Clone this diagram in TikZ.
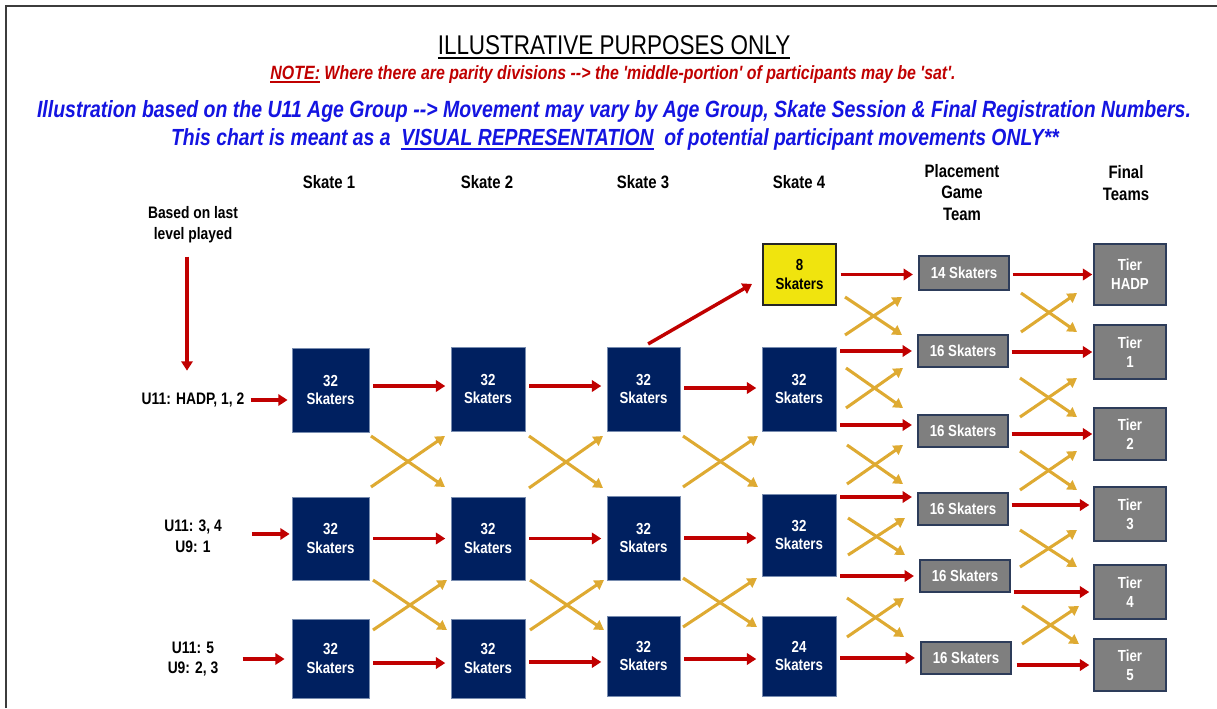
\documentclass[tikz,border=0pt]{standalone}
\usepackage{fontspec}
\setmainfont{Liberation Sans}[FakeStretch=0.83,Ligatures=TeXOff]
\usetikzlibrary{arrows.meta,calc}
\definecolor{navy}{RGB}{0,32,96}
\definecolor{navyedge}{RGB}{120,140,175}
\definecolor{boxgrey}{RGB}{127,127,127}
\definecolor{greyedge}{RGB}{45,60,90}
\definecolor{yel}{RGB}{240,228,14}
\definecolor{arrred}{RGB}{192,0,0}
\definecolor{gold}{RGB}{222,170,50}
\definecolor{titleblue}{RGB}{20,20,225}
\definecolor{framegrey}{RGB}{60,60,60}
% underline with chosen depth and thickness
\newcommand\myul[3]{\setbox0=\hbox{#3}\rlap{\rule[-#1]{\wd0}{#2}}\box0\relax}
% pair of crossing gold arrows inside the box (x1,y1)-(x2,y2)
\newcommand\goldx[4]{\draw[goldarr] (#1,#2) -- (#3,#4); \draw[goldarr] (#1,#4) -- (#3,#2);}

\begin{document}
\begin{tikzpicture}[x=0.75pt,y=-0.75pt,
  sz/.style 2 args={minimum width={#1*0.75pt}, minimum height={#2*0.75pt}},
  boxtext/.style={font=\bfseries\fontsize{12}{14}\selectfont, align=center, inner sep=0pt},
  navybox/.style={boxtext, draw=navyedge, line width=0.6pt, fill=navy, text=white},
  greybox/.style={boxtext, draw=greyedge, line width=1.1pt, fill=boxgrey, text=white},
  yellowbox/.style={boxtext, draw=black!85, line width=0.8pt, fill=yel, text=black},
  header/.style={font=\bfseries\fontsize{13.5}{16}\selectfont, align=center, inner sep=0pt},
  rowlabel/.style={font=\bfseries\fontsize{12.5}{15.5}\selectfont, align=center, inner sep=0pt},
  redarr/.style={draw=arrred, line width=2.6pt, -{Triangle[length=7pt,width=8.5pt]}, shorten <=3pt, shorten >=4pt},
  goldarr/.style={draw=gold, line width=2.3pt, -{Triangle[length=7pt,width=8pt]}},
]
\useasboundingbox (0,0) rectangle (1217,708);
\draw[framegrey, line width=1.2pt] (6,708) -- (6,6) -- (1217,6);

% headings
\node[font=\fontsize{20.3}{24}\selectfont, inner sep=0pt, anchor=base] (title) at (614,54)
  {\myul{3.4pt}{1.5pt}{ILLUSTRATIVE PURPOSES ONLY}};
\node[font=\bfseries\itshape\fontsize{14.4}{17}\selectfont, text=arrred, inner sep=0pt, anchor=base] (note) at (613,79.5)
  {\myul{2.6pt}{1.2pt}{NOTE:} Where there are parity divisions --> the 'middle-portion' of participants may be 'sat'.};
\node[font=\bfseries\itshape\fontsize{17.6}{21}\selectfont, text=titleblue, inner sep=0pt, anchor=base] (ill) at (614,117)
  {Illustration based on the U11 Age Group --> Movement may vary by Age Group, Skate Session \& Final Registration Numbers.};
\node[font=\bfseries\itshape\fontsize{17.5}{21}\selectfont, text=titleblue, inner sep=0pt, anchor=base] (chart) at (615,145)
  {This chart is meant as a \ \myul{3.6pt}{1.5pt}{VISUAL REPRESENTATION}\ \ of potential participant movements ONLY**};

% column headers
\node[header] (h1) at (329,182) {Skate 1};
\node[header] (h2) at (487,182) {Skate 2};
\node[header] (h3) at (643,182) {Skate 3};
\node[header] (h4) at (799,182) {Skate 4};
\node[header, font=\bfseries\fontsize{13.5}{16.1}\selectfont] (h5) at (962,192.5) {Placement\\Game\\Team};
\node[header, font=\bfseries\fontsize{13.5}{16.5}\selectfont] (h6) at (1126,183) {Final\\Teams};

% row labels
\node[rowlabel, font=\bfseries\fontsize{12.5}{15.75}\selectfont] (based) at (193,225) {Based on last\\level played};
\node[rowlabel] (rA) at (193,400) {U11: HADP, 1, 2};
\node[rowlabel] (rB) at (193,536.5) {U11: 3, 4\\U9: 1};
\node[rowlabel, font=\bfseries\fontsize{12.5}{15}\selectfont] (rC) at (193,659) {U11: 5\\U9: 2, 3};

% skate session boxes
\node[navybox, sz={77}{84}] (a1) at (330.5,390) {32\\Skaters};
\node[navybox, sz={77}{83}] (b1) at (330.5,538.5) {32\\Skaters};
\node[navybox, sz={77}{79}] (c1) at (330.5,658.5) {32\\Skaters};
\node[navybox, sz={74}{84}] (a2) at (488,389) {32\\Skaters};
\node[navybox, sz={74}{83}] (b2) at (488,538.5) {32\\Skaters};
\node[navybox, sz={74}{79}] (c2) at (488,658.5) {32\\Skaters};
\node[navybox, sz={73}{84}] (a3) at (643.5,389) {32\\Skaters};
\node[navybox, sz={73}{84}] (b3) at (643.5,538) {32\\Skaters};
\node[navybox, sz={73}{80}] (c3) at (643.5,656) {32\\Skaters};
\node[yellowbox, sz={73}{61}] (y4) at (799.5,274.5) {8\\Skaters};
\node[navybox, sz={74}{84}] (a4) at (799,389) {32\\Skaters};
\node[navybox, sz={74}{82}] (b4) at (799,535) {32\\Skaters};
\node[navybox, sz={74}{80}] (c4) at (799,656) {24\\Skaters};

% placement game teams
\node[greybox, sz={90}{34}] (p1) at (964,273) {14 Skaters};
\node[greybox, sz={90}{32}] (p2) at (963,351) {16 Skaters};
\node[greybox, sz={90}{32}] (p3) at (963,431) {16 Skaters};
\node[greybox, sz={90}{32}] (p4) at (963,509) {16 Skaters};
\node[greybox, sz={90}{32}] (p5) at (965,576) {16 Skaters};
\node[greybox, sz={90}{32}] (p6) at (966,658) {16 Skaters};

% final teams
\node[greybox, sz={72}{61}] (t0) at (1130,274.5) {Tier\\HADP};
\node[greybox, sz={72}{54}] (t1) at (1130,352) {Tier\\1};
\node[greybox, sz={72}{52}] (t2) at (1130,434) {Tier\\2};
\node[greybox, sz={72}{54}] (t3) at (1130,514) {Tier\\3};
\node[greybox, sz={72}{54}] (t4) at (1130,592) {Tier\\4};
\node[greybox, sz={72}{52}] (t5) at (1130,665) {Tier\\5};

% entry arrows
\draw[redarr, shorten <=9.75pt, shorten >=16.5pt] ([xshift=-4.5pt]based.south) -- ([xshift=-4.5pt]rA.north -| based.south);
\draw[redarr, shorten <=4.5pt, shorten >=3pt] (rA.east) -- (rA.east -| a1.west);
\draw[redarr, shorten <=22.5pt, shorten >=1.5pt] ([yshift=1.9pt]rB.east) -- ([yshift=1.9pt]rB.east -| b1.west);
\draw[redarr, shorten <=18pt, shorten >=5.25pt] (rC.east) -- (rC.east -| c1.west);

% straight progression between skates
\draw[redarr] ([yshift=3pt]a1.east) -- ([yshift=3pt]a1.east -| a2.west);
\draw[redarr] ([yshift=2.25pt]a2.east) -- ([yshift=2.25pt]a2.east -| a3.west);
\draw[redarr] ([yshift=0.75pt]a3.east) -- ([yshift=0.75pt]a3.east -| a4.west);
\draw[redarr] (b1.east) -- (b1.east -| b2.west);
\draw[redarr] (b2.east) -- (b2.east -| b3.west);
\draw[redarr] (b3.east) -- (b3.east -| b4.west);
\draw[redarr] ([yshift=-3.4pt]c1.east) -- ([yshift=-3.4pt]c1.east -| c2.west);
\draw[redarr] ([yshift=-2.6pt]c2.east) -- ([yshift=-2.6pt]c2.east -| c3.west);
\draw[redarr] ([yshift=-2.25pt]c3.east) -- ([yshift=-2.25pt]c3.east -| c4.west);
\draw[redarr, shorten <=4pt, shorten >=9pt] (a3.north) -- ([yshift=-2.6pt]y4.west);

% skate 4 to placement games
\draw[redarr] (y4.east) -- (y4.east -| p1.west);
\draw[redarr] (p2.west -| a4.east) -- (p2.west);
\draw[redarr] ([yshift=4.5pt]p3.west -| a4.east) -- ([yshift=4.5pt]p3.west);
\draw[redarr] ([yshift=9pt]p4.west -| b4.east) -- ([yshift=9pt]p4.west);
\draw[redarr] (p5.west -| b4.east) -- (p5.west);
\draw[redarr] (p6.west -| c4.east) -- (p6.west);

% placement games to final teams
\draw[redarr, shorten <=2.25pt, shorten >=0.75pt] (t0.west -| p1.east) -- (t0.west);
\draw[redarr, shorten <=2.25pt, shorten >=0.75pt] (t1.west -| p2.east) -- (t1.west);
\draw[redarr, shorten <=2.25pt, shorten >=0.75pt] (t2.west -| p3.east) -- (t2.west);
\draw[redarr, shorten <=2.25pt, shorten >=3pt] ([yshift=6.75pt]t3.west -| p4.east) -- ([yshift=6.75pt]t3.west);
\draw[redarr, shorten <=2.25pt, shorten >=3pt] (t4.west -| p5.east) -- (t4.west);
\draw[redarr, shorten <=3.75pt, shorten >=3pt] (t5.west -| p6.east) -- (t5.west);

% crossing movements between skates
\goldx{371}{436}{445}{487}
\goldx{373}{580}{447}{630}
\goldx{529}{436}{603}{488}
\goldx{530}{580}{604}{630}
\goldx{683}{436}{758}{487}
\goldx{683}{578}{757}{627}
% crossing movements into placement games
\goldx{845}{297}{902}{335}
\goldx{846}{368}{903}{408}
\goldx{847}{445}{903}{484}
\goldx{848}{518}{905}{555}
\goldx{847}{598}{904}{637}
% crossing movements into final teams
\goldx{1021}{293}{1077}{332}
\goldx{1020}{378}{1077}{417}
\goldx{1020}{451}{1077}{490}
\goldx{1020}{530}{1077}{567}
\goldx{1022}{606}{1079}{644}
\end{tikzpicture}
\end{document}
